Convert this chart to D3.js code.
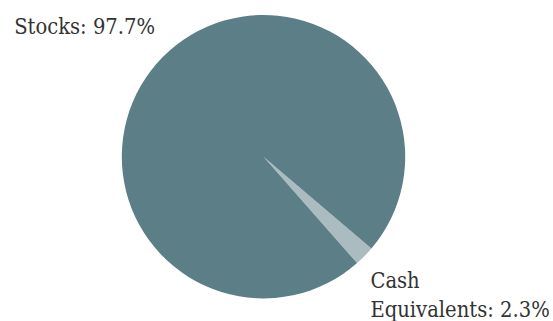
<!DOCTYPE html>
<html>
<head>
<meta charset="utf-8">
<script src="https://cdn.jsdelivr.net/npm/d3@7"></script>
<style>
  html, body { margin: 0; padding: 0; background: #fff; }
  svg { display: block; }
</style>
</head>
<body>
<svg id="chart" width="553" height="321"></svg>
<script>
// Data, drawn in clockwise order from the start angle
const categories = ['Cash Equivalents', 'Stocks'];
const values = [2.3, 97.7];
const labelLines = [['Cash', 'Equivalents: 2.3%'], ['Stocks: 97.7%']];
const colors = ['#abbcc1', '#5b7e87'];

const width = 553, height = 321;
const cx = 263.5, cy = 156.7, radius = 141.7;

const svg = d3.select('#chart');
const g = svg.append('g').attr('transform', `translate(${cx},${cy})`);

const data = categories.map((c, i) => ({ name: c, value: values[i], lines: labelLines[i], color: colors[i] }));

const startDeg = 130.4;
const pie = d3.pie()
    .value(d => d.value)
    .sort(null)
    .startAngle(startDeg * Math.PI / 180)
    .endAngle((startDeg + 360) * Math.PI / 180);

const arc = d3.arc().innerRadius(0).outerRadius(radius);
const labelArc = d3.arc().innerRadius(150).outerRadius(150);

const arcs = pie(data);

g.selectAll('path')
    .data(arcs)
    .enter()
    .append('path')
    .attr('d', arc)
    .attr('fill', d => d.data.color);

// Labels sit outside the pie, anchored by side.
// DejaVu Serif is wider than the original face, so squeeze it a bit
const fontSize = 22.5, lineH = 29, squeeze = 0.87;
arcs.forEach(d => {
    const [x, y] = labelArc.centroid(d);
    const right = x > 0;
    const y0 = right ? y + 26 : y - 17 - (d.data.lines.length - 1) * lineH;
    const x0 = right ? x : x - 1.5;
    d.data.lines.forEach((line, i) => {
        const t = g.append('text')
            .attr('font-family', '"DejaVu Serif", serif')
            .attr('font-size', fontSize)
            .attr('fill', '#333')
            .attr('text-anchor', right ? 'start' : 'end')
            .attr('x', x0)
            .attr('y', y0 + i * lineH)
            .text(line);
        const w = t.node().getComputedTextLength();
        t.attr('textLength', w * squeeze).attr('lengthAdjust', 'spacingAndGlyphs');
    });
});
</script>
</body>
</html>
